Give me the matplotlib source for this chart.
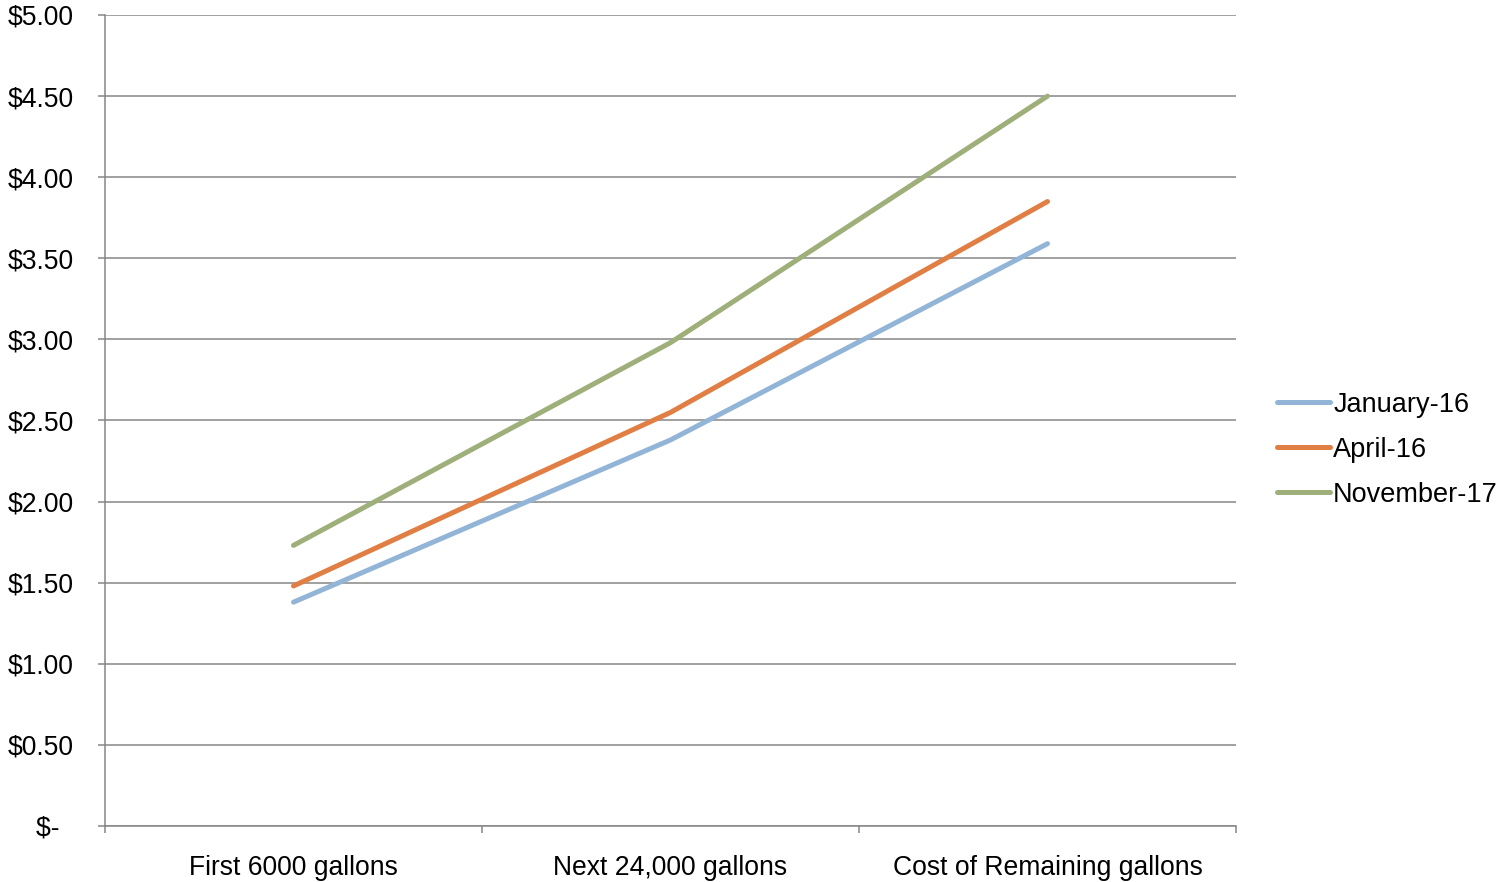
import matplotlib
matplotlib.use("Agg")
import matplotlib.pyplot as plt
from matplotlib.ticker import FixedLocator, FuncFormatter

plt.rcParams['font.family'] = ['Liberation Sans', 'DejaVu Sans']

categories = ["First 6000 gallons", "Next 24,000 gallons", "Cost of Remaining gallons"]
series_names = ["January-16", "April-16", "November-17"]
jan16 = [1.38, 2.38, 3.59]
apr16 = [1.48, 2.55, 3.85]
nov17 = [1.73, 2.98, 4.50]
yticks = [0, 0.5, 1.0, 1.5, 2.0, 2.5, 3.0, 3.5, 4.0, 4.5, 5.0]

colors = ['#92B5D7', '#E07E44', '#9EAF7A']
grid_c = '#868686'
FS = 19.1
LFS = 19.5

fig = plt.figure(figsize=(15.01, 8.82), dpi=100)
ax = fig.add_axes([105/1501, 1-826/882, (1236-105)/1501, (826-15)/882])

x = list(range(len(categories)))
for vals, name, c in zip([jan16, apr16, nov17], series_names, colors):
    ax.plot(x, vals, color=c, lw=3.6, solid_capstyle='round', solid_joinstyle='round', label=name, zorder=3)

ax.set_xlim(-0.5, len(categories) - 0.5)
ax.set_ylim(0, 5)
ax.set_yticks(yticks)

def fmt(v, pos):
    if abs(v) < 1e-9:
        return "$-  "
    return f"${v:.2f}"
ax.yaxis.set_major_formatter(FuncFormatter(fmt))
ax.yaxis.grid(True, color=grid_c, lw=1.1)
ax.set_axisbelow(True)

ax.xaxis.set_major_locator(FixedLocator([-0.5, 0.5, 1.5, 2.5]))
ax.xaxis.set_major_formatter(FuncFormatter(lambda v, p: ""))
ax.xaxis.set_minor_locator(FixedLocator(x))
ax.set_xticklabels(categories, minor=True)
ax.tick_params(axis='x', which='minor', length=0, pad=21, labelsize=FS)
ax.tick_params(axis='x', which='major', length=5, width=1.1, color=grid_c, direction='out')
ax.tick_params(axis='y', length=5, width=1.1, color=grid_c, direction='out', pad=17.5, labelsize=FS)

for s in ['top', 'right']:
    ax.spines[s].set_visible(False)
for s in ['left', 'bottom']:
    ax.spines[s].set_color(grid_c)
    ax.spines[s].set_linewidth(1.1)

leg = ax.legend(loc='center left', bbox_to_anchor=(1.0267, 0.464), frameon=False, fontsize=LFS,
                handlelength=1.95, handletextpad=0.12, labelspacing=0.7, borderaxespad=0)

fig.savefig("out.png", dpi=100)
